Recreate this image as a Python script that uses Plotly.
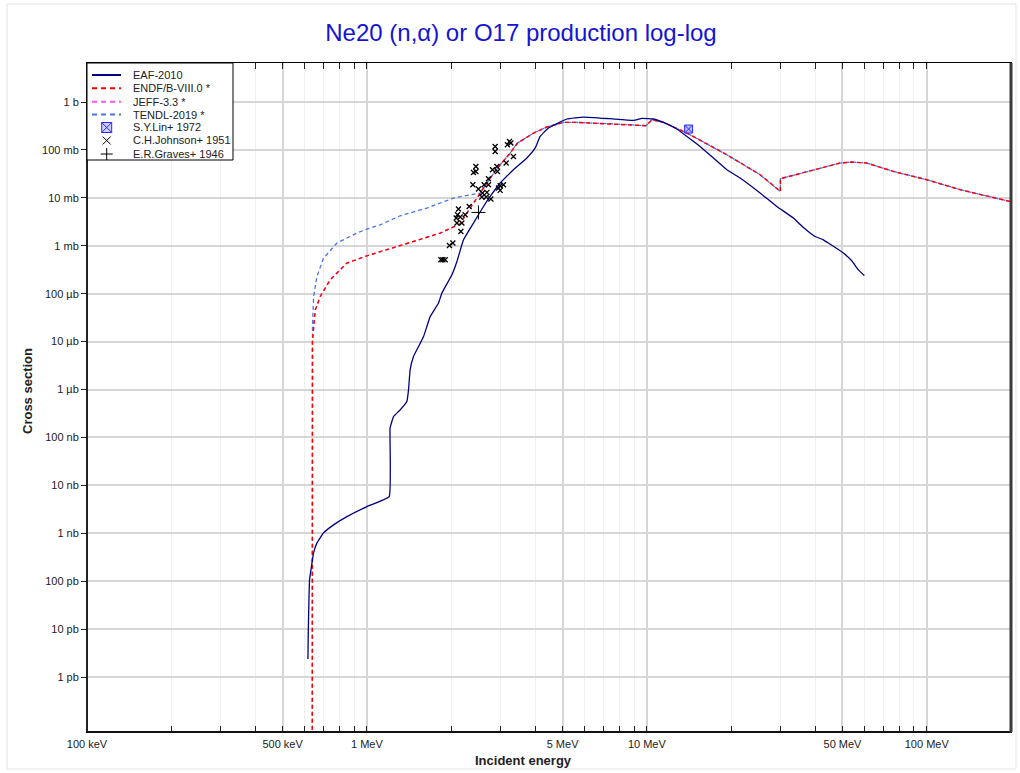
import plotly.graph_objects as go

# ---------------- data (energy in MeV, cross section in barns) ----------------
eaf_E = [0.6155, 0.6172, 0.6207, 0.6237, 0.6362, 0.6448, 0.663, 0.700, 0.760, 0.8484, 1.0, 1.201,
         1.21, 1.245, 1.315, 1.389, 1.408, 1.427, 1.467, 1.529, 1.593, 1.638, 1.683, 1.802, 1.853,
         2.012, 2.097, 2.213, 2.403, 2.609, 2.757, 2.993, 3.339, 3.727, 3.992, 4.158, 4.453, 5.18,
         5.94, 7.39, 8.96, 9.60, 10.56, 11.47, 12.79, 15.50, 19.31, 21.54, 25.39, 29.13, 33.38,
         36.25, 39.92, 42.73, 50.37, 53.97, 56.97, 59.85]
eaf_sig = [2.39e-12, 8.32e-12, 4.07e-11, 1.06e-10, 2.38e-10, 3.90e-10, 6.31e-10, 1.02e-9, 1.50e-9,
           2.23e-9, 3.61e-9, 5.84e-9, 1.58e-7, 2.73e-7, 3.77e-7, 5.62e-7, 9.86e-7, 2.58e-6, 4.89e-6,
           7.9e-6, 1.28e-5, 2.07e-5, 3.34e-5, 6.37e-5, 1.03e-4, 2.48e-4, 4.70e-4, 1.33e-3, 2.98e-3,
           6.61e-3, 1.07e-2, 2.04e-2, 3.86e-2, 6.78e-2, 0.110, 0.191, 0.287, 0.442, 0.486, 0.448,
           0.413, 0.455, 0.442, 0.375, 0.273, 0.118, 0.0386, 0.0259, 0.0126, 6.61e-3, 3.79e-3,
           2.41e-3, 1.56e-3, 1.33e-3, 7.04e-4, 4.86e-4, 3.15e-4, 2.40e-4]

endf_E = [0.638, 0.639, 0.654, 0.681, 0.739, 0.848, 1.0, 1.116, 1.467, 1.827, 2.154, 2.276, 2.541,
          2.757, 2.993, 3.25, 3.45, 3.94, 4.39, 5.04, 5.62, 7.39, 9.94, 10.42, 11.47, 13.9, 19.31,
          25.39, 29.99, 30.0, 39.4, 49.0, 53.97, 61.06, 75.97, 100.0, 131.5, 198.4]
endf_sig = [1e-15, 1.09e-5, 4.61e-5, 8.74e-5, 1.95e-4, 4.35e-4, 6.18e-4, 7.60e-4, 1.23e-3, 1.84e-3,
            2.88e-3, 4.82e-3, 0.0126, 0.0259, 0.0491, 0.0861, 0.139, 0.225, 0.301, 0.375, 0.375,
            0.352, 0.320, 0.427, 0.375, 0.225, 0.0794, 0.0304, 0.0136, 0.0251, 0.0386, 0.0533,
            0.0559, 0.0533, 0.0356, 0.0239, 0.0148, 8.41e-3]

jeff_E = list(endf_E)
jeff_sig = list(endf_sig)

tendl_E = [0.638, 0.639, 0.645, 0.663, 0.700, 0.7813, 0.921, 1.0, 1.116, 1.315, 1.638, 2.039, 2.338,
           2.541, 2.757, 2.993, 3.25, 3.45, 3.94, 4.39, 5.04, 5.62, 7.39, 9.94, 10.42, 11.47, 13.9,
           19.31, 25.39, 29.99, 30.0, 39.4, 49.0, 53.97, 61.06, 75.97, 100.0, 131.5, 198.4]
tendl_sig = [1e-15, 2.07e-5, 8.74e-5, 2.29e-4, 5.54e-4, 1.14e-3, 1.84e-3, 2.23e-3, 2.74e-3, 4.23e-3,
             6.12e-3, 9.9e-3, 0.0116, 0.0126, 0.0259, 0.0491, 0.0861, 0.139, 0.225, 0.301, 0.375,
             0.375, 0.352, 0.320, 0.427, 0.375, 0.225, 0.0794, 0.0304, 0.0136, 0.0251, 0.0386,
             0.0533, 0.0559, 0.0533, 0.0356, 0.0239, 0.0148, 8.41e-3]

lin_E = [14.1]
lin_sig = [0.273]

johnson_E = [2.872, 2.872, 3.230, 3.177, 3.268, 3.338, 3.144, 2.451, 2.451, 2.403, 2.809, 2.913,
             2.927, 2.718, 2.391, 2.503, 2.623, 2.718, 2.587, 2.683, 2.574, 2.667, 2.772, 2.993,
             3.075, 2.993, 2.951, 2.319, 2.124, 2.107, 2.154, 2.244, 2.097, 2.184, 2.084, 2.166,
             1.972, 2.028, 1.838, 1.868, 1.904]
johnson_sig = [0.1183, 0.0930, 0.1505, 0.1284, 0.1393, 0.0731, 0.0533, 0.0452, 0.0356, 0.0339,
               0.0386, 0.0452, 0.0356, 0.0250, 0.0188, 0.0153, 0.0188, 0.0188, 0.0126, 0.0130,
               0.0104, 0.0104, 0.00944, 0.0179, 0.0188, 0.0143, 0.0160, 0.00662, 0.00584, 0.00444,
               0.00397, 0.00444, 0.00298, 0.00298, 0.00379, 0.00199, 0.00101, 0.00114, 0.00051,
               0.00051, 0.00051]

graves_E = [2.503]
graves_sig = [0.00496]

x_tickvals = [0.1, 0.5, 1, 5, 10, 50, 100]
x_ticktext = ["100 keV", "500 keV", "1 MeV", "5 MeV", "10 MeV", "50 MeV", "100 MeV"]
x_minorvals = [0.2, 0.3, 0.4, 0.6, 0.7, 0.8, 0.9, 2, 3, 4, 6, 7, 8, 9,
               20, 30, 40, 60, 70, 80, 90, 200]
y_tickvals = [1, 1e-1, 1e-2, 1e-3, 1e-4, 1e-5, 1e-6, 1e-7, 1e-8, 1e-9, 1e-10, 1e-11, 1e-12]
y_ticktext = ["1 b", "100 mb", "10 mb", "1 mb", "100 µb", "10 µb", "1 µb", "100 nb", "10 nb",
              "1 nb", "100 pb", "10 pb", "1 pb"]

legend_names = ["EAF-2010", "ENDF/B-VIII.0 *", "JEFF-3.3 *", "TENDL-2019 *",
                "S.Y.Lin+ 1972", "C.H.Johnson+ 1951", "E.R.Graves+ 1946"]

# ---------------- styling / layout ----------------
FONT = "Arial, Liberation Sans, Helvetica, sans-serif"
C_EAF = "#000080"
C_ENDF = "#ff0000"
C_JEFF = "#ff55ee"
C_TENDL = "#4a74e6"
DASH = "4px,3px"

W_FIG, H_FIG = 1020, 773
L, R, T, B = 87, 1011, 63, 732


def pxx(x):
    return (x - L) / (R - L)


def pxy(y):
    return (B - y) / (B - T)


fig = go.Figure()
fig.add_trace(go.Scatter(x=tendl_E, y=tendl_sig, mode="lines", name=legend_names[3],
                         line=dict(color=C_TENDL, width=1.3, dash=DASH)))
fig.add_trace(go.Scatter(x=jeff_E, y=jeff_sig, mode="lines", name=legend_names[2],
                         line=dict(color=C_JEFF, width=1.4, dash="3px,4px")))
fig.add_trace(go.Scatter(x=endf_E, y=endf_sig, mode="lines", name=legend_names[1],
                         line=dict(color=C_ENDF, width=1.4, dash=DASH)))
fig.add_trace(go.Scatter(x=eaf_E, y=eaf_sig, mode="lines", name=legend_names[0],
                         line=dict(color=C_EAF, width=1.3, shape="spline", smoothing=0.3)))
fig.add_trace(go.Scatter(x=johnson_E, y=johnson_sig, mode="markers", name=legend_names[5],
                         marker=dict(symbol="x-thin", size=5, line=dict(color="black", width=1.3))))
fig.add_trace(go.Scatter(x=graves_E, y=graves_sig, mode="markers", name=legend_names[6],
                         marker=dict(symbol="cross-thin", size=10, line=dict(color="black", width=1))))
fig.add_trace(go.Scatter(x=lin_E, y=lin_sig, mode="markers", name=legend_names[4],
                         marker=dict(symbol="square-x", size=8, color="rgba(140,150,255,0.6)",
                                     line=dict(color="#2a2aff", width=1))))

shapes = []
annotations = []

# outer faint frame
shapes.append(dict(type="rect", xref="paper", yref="paper", x0=pxx(7), x1=pxx(1016),
                   y0=pxy(769), y1=pxy(4), line=dict(color="#e4e4e4", width=1), layer="below"))

# thicker borders
shapes.append(dict(type="line", xref="paper", yref="paper", x0=0, x1=0, y0=0, y1=1,
                   line=dict(color="#222222", width=2), layer="above"))
shapes.append(dict(type="line", xref="paper", yref="paper", x0=0, x1=1, y0=0, y1=0,
                   line=dict(color="#111111", width=2), layer="above"))
shapes.append(dict(type="line", xref="paper", yref="paper", x0=1, x1=1, y0=0, y1=1,
                   line=dict(color="#3a3a3a", width=3), layer="above"))

# legend box
shapes.append(dict(type="rect", xref="paper", yref="paper", x0=pxx(87), x1=pxx(233),
                   y0=pxy(160), y1=pxy(63), line=dict(color="black", width=1),
                   fillcolor="white", layer="above"))
row_y = [75, 88.3, 101.7, 114.5, 127.5, 140.5, 154]
line_styles = [(C_EAF, "solid", 2), (C_ENDF, "5px,4px", 2), (C_JEFF, "5px,4px", 2),
               (C_TENDL, "5px,4px", 2)]
for i, (c, d, w) in enumerate(line_styles):
    shapes.append(dict(type="line", xref="paper", yref="paper", x0=pxx(92), x1=pxx(121),
                       y0=pxy(row_y[i]), y1=pxy(row_y[i]), line=dict(color=c, width=w, dash=d),
                       layer="above"))
mx = 106.7
# S.Y.Lin marker
yy = row_y[4]
shapes.append(dict(type="rect", xref="paper", yref="paper", x0=pxx(mx - 5), x1=pxx(mx + 5),
                   y0=pxy(yy + 5), y1=pxy(yy - 5), line=dict(color="#2a2aff", width=1),
                   fillcolor="rgba(170,175,255,0.6)", layer="above"))
for a, b in [((-5, -5), (5, 5)), ((-5, 5), (5, -5))]:
    shapes.append(dict(type="line", xref="paper", yref="paper", x0=pxx(mx + a[0]), x1=pxx(mx + b[0]),
                       y0=pxy(yy + a[1]), y1=pxy(yy + b[1]), line=dict(color="#2a2aff", width=1),
                       layer="above"))
# Johnson x
yy = row_y[5]
for a, b in [((-4, -4), (4, 4)), ((-4, 4), (4, -4))]:
    shapes.append(dict(type="line", xref="paper", yref="paper", x0=pxx(mx + a[0]), x1=pxx(mx + b[0]),
                       y0=pxy(yy + a[1]), y1=pxy(yy + b[1]), line=dict(color="black", width=1),
                       layer="above"))
# Graves +
yy = row_y[6]
shapes.append(dict(type="line", xref="paper", yref="paper", x0=pxx(mx - 6), x1=pxx(mx + 6),
                   y0=pxy(yy), y1=pxy(yy), line=dict(color="black", width=1), layer="above"))
shapes.append(dict(type="line", xref="paper", yref="paper", x0=pxx(mx), x1=pxx(mx),
                   y0=pxy(yy - 6), y1=pxy(yy + 6), line=dict(color="black", width=1), layer="above"))

for i, name in enumerate(legend_names):
    annotations.append(dict(text=name, xref="paper", yref="paper", x=pxx(131), y=pxy(row_y[i]),
                            xanchor="left", yanchor="middle", showarrow=False,
                            font=dict(family=FONT, size=11, color="#222222")))

# axis titles
annotations.append(dict(text="<b>Incident energy</b>", xref="paper", yref="paper",
                        x=pxx(523), y=pxy(760), xanchor="center", yanchor="middle",
                        showarrow=False, font=dict(family=FONT, size=13, color="#222222")))
annotations.append(dict(text="<b>Cross section</b>", xref="paper", yref="paper",
                        x=pxx(27), y=pxy(391), xanchor="center", yanchor="middle", textangle=-90,
                        showarrow=False, font=dict(family=FONT, size=13, color="#222222")))

fig.update_layout(
    width=W_FIG, height=H_FIG, autosize=False,
    margin=dict(l=L, r=W_FIG - R, t=T, b=H_FIG - B, pad=0),
    paper_bgcolor="white", plot_bgcolor="white",
    showlegend=False,
    title=dict(text="Ne20 (n,α) or O17 production log-log", x=521 / W_FIG, xref="container",
               xanchor="center", y=1 - 33 / H_FIG, yref="container", yanchor="middle",
               font=dict(family=FONT, size=24, color="#1414d2")),
    shapes=shapes, annotations=annotations,
    xaxis=dict(type="log", range=[-1, 2.301], tickvals=x_tickvals, ticktext=x_ticktext,
               ticks="inside", ticklen=6, tickcolor="#222", showline=True, linecolor="black",
               linewidth=1, mirror="allticks", showgrid=True, gridcolor="#d6d6d6", gridwidth=1.5,
               zeroline=False, ticklabelstandoff=2,
               tickfont=dict(family=FONT, size=11, color="#222222"),
               minor=dict(tickvals=x_minorvals, ticks="inside", ticklen=6, tickcolor="#222",
                          showgrid=True, gridcolor="#efefef", gridwidth=1)),
    yaxis=dict(type="log", range=[-13.146, 0.814], tickvals=y_tickvals, ticktext=y_ticktext,
               ticks="outside", ticklen=5, tickcolor="#222", showline=True, linecolor="black",
               linewidth=1, mirror=True, showgrid=True, gridcolor="#d6d6d6", gridwidth=1.5,
               zeroline=False, tickfont=dict(family=FONT, size=11, color="#222222")),
)

fig.write_html("out.html", config={"displayModeBar": False},
               post_script="document.body.style.margin='0';document.body.style.overflow='hidden';")
